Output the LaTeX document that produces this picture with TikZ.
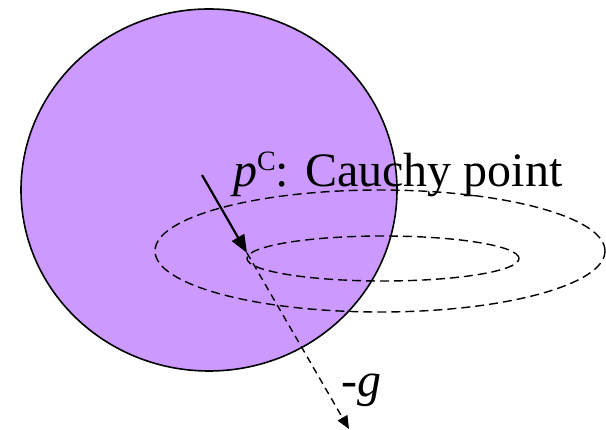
\documentclass[tikz,border=0pt]{standalone}
\usepackage{fontspec}
\setmainfont{Liberation Serif}
\usetikzlibrary{arrows.meta}
\definecolor{lilac}{RGB}{204,153,255}
\begin{document}
\begin{tikzpicture}[x=1pt,y=-1pt,
  contour/.style={dash pattern=on 9pt off 5pt, line width=1.4pt},
  lbl/.style={anchor=base west, inner sep=0pt, font=\fontsize{48}{56}\selectfont}]
\useasboundingbox (0,0) rectangle (606,430);
\draw[fill=lilac, line width=1.6pt] (209,190) ellipse [x radius=188pt, y radius=181pt];
\draw[contour] (380,251) ellipse [x radius=225pt, y radius=61pt];
\draw[contour] (383,258.5) ellipse [x radius=136pt, y radius=22.5pt];
\coordinate (cp) at (247,253);
\coordinate (s) at (202,175);
\coordinate (gend) at (349,429);
\draw[line width=2.2pt, -{Triangle[length=18pt,width=14pt]}] (s) -- (cp);
\draw[line width=1.4pt, dash pattern=on 7pt off 5pt, -{Triangle[length=13pt,width=11pt]}] (cp) -- (gend);
\node[lbl] (cauchy) at (233,187) {\textit{p}\raisebox{16pt}{\fontsize{28}{28}\selectfont C}: Cauchy point};
\node[lbl] (glabel) at (341,397) {-\textit{g}};
\end{tikzpicture}
\end{document}
